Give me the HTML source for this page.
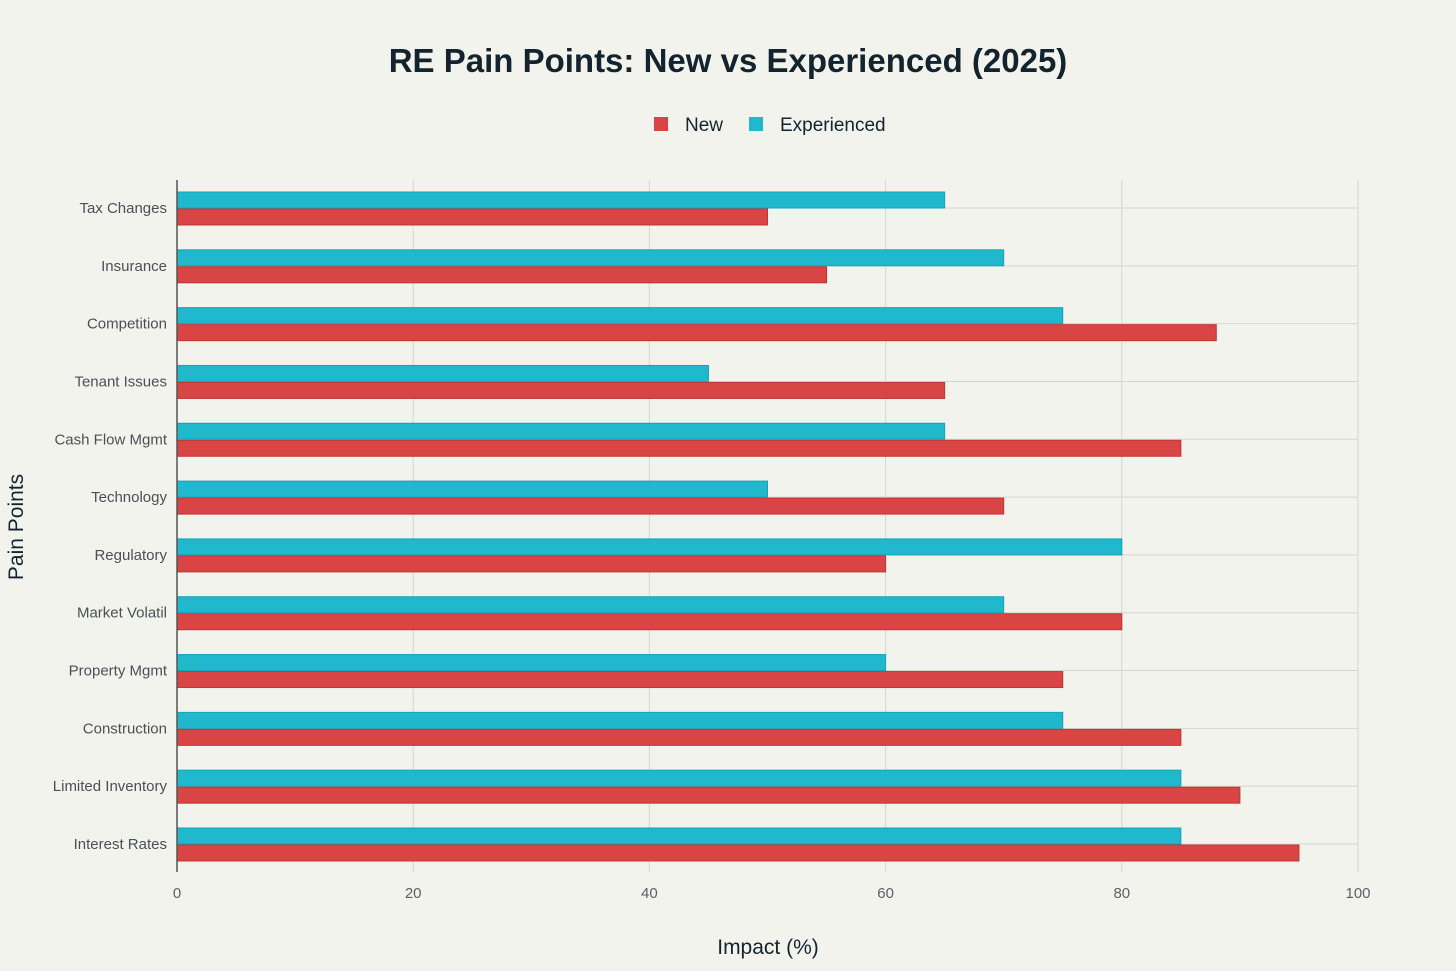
<!DOCTYPE html>
<html><head><meta charset="utf-8"><style>
body{margin:0;background:#f3f3ee;font-family:"Liberation Sans",sans-serif;}
svg{display:block}
</style></head><body>
<svg id="chart" width="1456" height="971" xmlns="http://www.w3.org/2000/svg">
<rect width="1456" height="971" fill="#f3f3ee"/>
<text x="728" y="72" text-anchor="middle" font-size="33" font-weight="bold" fill="#13242e">RE Pain Points: New vs Experienced (2025)</text>
<g>
<rect x="654" y="117" width="14" height="14" fill="#d94444"/>
<text x="685" y="131" font-size="19" fill="#13242e">New</text>
<rect x="749" y="117" width="14" height="14" fill="#1fb8cc"/>
<text x="780" y="131" font-size="19" fill="#13242e">Experienced</text>
</g>
<text transform="translate(23,527) rotate(-90)" text-anchor="middle" font-size="21" fill="#13242e">Pain Points</text>
<text x="768" y="954" text-anchor="middle" font-size="21" fill="#13242e">Impact (%)</text>
<g id="plot"></g>
</svg>
<script>
const categories=["Tax Changes","Insurance","Competition","Tenant Issues","Cash Flow Mgmt","Technology","Regulatory","Market Volatil","Property Mgmt","Construction","Limited Inventory","Interest Rates"];
const experienced=[65,70,75,45,65,50,80,70,60,75,85,85];
const newVals=[50,55,88,65,85,70,60,80,75,85,90,95];
const xTicks=[0,20,40,60,80,100];
const NS="http://www.w3.org/2000/svg";
const g=document.getElementById('plot');
const x0=177,x1=1358,yTop=180,yBot=872,cy0=208,cstep=(844-208)/11;
const xs=v=>x0+(v/100)*(x1-x0);
const ys=i=>cy0+i*cstep;
function mk(tag,attrs){const e=document.createElementNS(NS,tag);for(const k in attrs)e.setAttribute(k,attrs[k]);g.appendChild(e);return e;}
xTicks.forEach(t=>{
 if(t>0){const l=mk('line',{x1:xs(t),x2:xs(t),y1:yTop,y2:yBot,stroke:'#d6d6d0','stroke-width':1});
 
 }
 const tx=mk('text',{x:xs(t),y:898,'text-anchor':'middle','font-size':15,fill:'#5a6066'});tx.textContent=t;
 
 
});
categories.forEach((c,i)=>{
 const y=ys(i);
 const l=mk('line',{x1:x0,x2:x1,y1:y,y2:y,stroke:'#d6d6d0','stroke-width':1});
 
 
 const tx=mk('text',{x:167,y:y+5,'text-anchor':'end','font-size':15,fill:'#4a5056'});tx.textContent=c;
 
 
 const b1=mk('rect',{x:x0,y:y-16,width:xs(experienced[i])-x0,height:16,fill:'#1fb8cc',stroke:'#17a3b5','stroke-width':1});
 
 
 const b2=mk('rect',{x:x0,y:y+1,width:xs(newVals[i])-x0,height:16,fill:'#d94444',stroke:'#c03636','stroke-width':1});
 
 
});
const ax=mk('line',{x1:x0,x2:x0,y1:yTop,y2:yBot,stroke:'#555','stroke-width':1.5});


</script>
</body></html>
